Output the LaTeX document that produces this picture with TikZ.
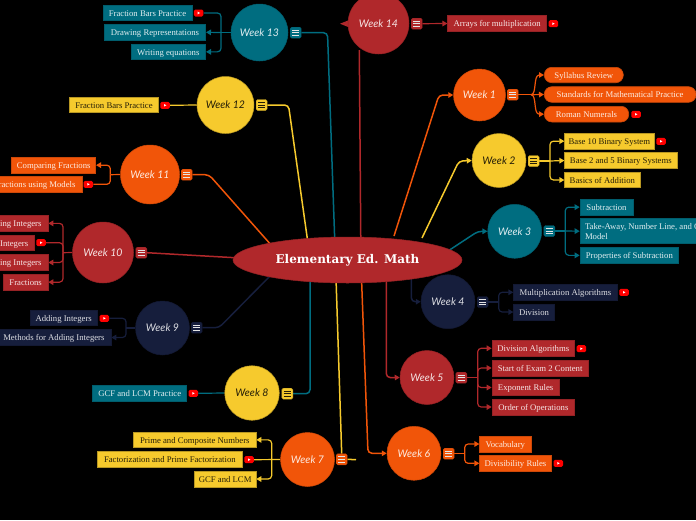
\documentclass[tikz,border=0pt]{standalone}
\usepackage{fontspec}
\usetikzlibrary{shapes.geometric,arrows.meta,calc}
\setmainfont{Liberation Serif}
\newfontfamily\wkfont{Lato}
\newfontfamily\ttlfont{DejaVu Serif}
\definecolor{cR}{HTML}{B0282B}
\definecolor{cO}{HTML}{F15509}
\definecolor{cY}{HTML}{F6CA2D}
\definecolor{cT}{HTML}{006D80}
\definecolor{cN}{HTML}{161E3C}
\pgfdeclarelayer{background}
\pgfdeclarelayer{conn}
\pgfsetlayers{background,conn,main}
\tikzset{
  sR/.style={fill=cR,draw=cR!85!black,text=white!88!cR},
  sO/.style={fill=cO,draw=cO!85!black,text=white!88!cO},
  sY/.style={fill=cY,draw=cY!75!black,text=black!85!cY},
  sT/.style={fill=cT,draw=cT!85!black,text=white!88!cT},
  sN/.style={fill=cN,draw=cN!85!black,text=white!85!cN},
  boxst/.style={rectangle,line width=.6pt,inner xsep=2pt,inner ysep=0pt,align=flush left,text height=7.5pt,text depth=.7pt,font=\fontsize{8.7}{10}\selectfont},
  twolinest/.style={text height=7.5pt,text depth=11pt},
  pillst/.style={rounded corners=7.5pt},
  rightst/.style={align=flush right},
  circst/.style={circle,inner sep=0pt,line width=.5pt,font=\wkfont\itshape\fontsize{10.5}{12}\selectfont},
  menust/.style={rectangle,rounded corners=1.5pt,minimum width=11pt,minimum height=11pt,inner sep=0pt,line width=.4pt},
  ytst/.style={rectangle,rounded corners=1.5pt,fill=red,draw=none,minimum width=9.5pt,minimum height=7pt,inner sep=0pt},
  mainc/.style={draw=#1,line width=1.5pt,rounded corners=4pt},
  subc/.style={draw=#1,line width=1.2pt,rounded corners=3.5pt},
  tip/.style={-{Triangle[length=5pt,width=5.5pt,fill=#1]}},
}
\newcommand\bx[7]{%
  \pgfmathsetmacro\bxw{#4-(#2)}\pgfmathsetmacro\bxh{#5-(#3)}%
  \pgfmathsetmacro\bxx{(#2+#4)/2}\pgfmathsetmacro\bxy{(#3+#5)/2}%
  \node[boxst,#6,minimum width=\bxw pt,minimum height=\bxh pt] (#1) at (\bxx,\bxy) {#7};}
\newcommand\bxc[7]{%
  \pgfmathsetmacro\bxw{#4-(#2)}\pgfmathsetmacro\bxh{#5-(#3)}%
  \pgfmathsetmacro\bxx{(#2+#4)/2}\pgfmathsetmacro\bxy{(#3+#5)/2}%
  \pgfmathsetmacro\bxt{\bxw-10}%
  \node[boxst,inner xsep=5pt,#6,minimum width=\bxw pt,minimum height=\bxh pt,text width=\bxt pt] (#1) at (\bxx,\bxy) {#7};}
\newcommand\wk[6]{\node[circst,#5,minimum size=#4*2pt] (#1) at (#2,#3) {#6};}
\newcommand\mn[4]{%
  \node[menust,#4] (#1) at (#2,#3) {};
  \draw[white!90!black,line width=.7pt] (#2-3.7,#3-2.6) -- (#2+3.7,#3-2.6) (#2-3.7,#3) -- (#2+3.7,#3) (#2-3.7,#3+2.6) -- (#2+3.7,#3+2.6);}
\newcommand\mnd[4]{%
  \node[menust,#4] (#1) at (#2,#3) {};
  \draw[black!85!cY,line width=.7pt] (#2-3.7,#3-2.6) -- (#2+3.7,#3-2.6) (#2-3.7,#3) -- (#2+3.7,#3) (#2-3.7,#3+2.6) -- (#2+3.7,#3+2.6);}
\newcommand\yt[3]{%
  \node[ytst] (#1) at (#2,#3) {};
  \fill[white] (#2-1,#3-1.3) -- (#2+1.4,#3) -- (#2-1,#3+1.3) -- cycle;}
\newcommand\rp{\hspace*{1.5pt}}
\begin{document}
\begin{tikzpicture}[x=1pt,y=-1pt]
\useasboundingbox (0,0) rectangle (696,520);
\begin{pgfonlayer}{background}
\fill[black] (0,0) rectangle (696,520);
\end{pgfonlayer}
\clip (0,0) rectangle (696,520);

\node[ellipse,fill=cR,draw=cR!85!black,line width=.5pt,inner sep=0pt,minimum width=229pt,minimum height=46pt,text=white,font=\ttlfont\bfseries\fontsize{12}{14}\selectfont] (main) at (347.5,260) {Elementary Ed. Math};

% circles
\wk{w13}{259.5}{32.5}{28.5}{sT}{Week 13}
\wk{w12}{225.5}{105}{28.5}{sY}{Week 12}
\wk{w11}{150}{174.5}{29.5}{sO}{Week 11}
\wk{w10}{103}{252.5}{30.5}{sR}{Week 10}
\wk{w9}{162.5}{328}{27}{sN}{Week 9}
\wk{w8}{252}{393}{27.3}{sY}{Week 8}
\wk{w7}{307.5}{459.5}{27}{sO}{Week 7}
\wk{w14}{378.5}{23.5}{30.5}{sR}{Week 14}
\wk{w1}{479.5}{95}{26}{sO}{Week 1}
\wk{w2}{499}{160.5}{27}{sY}{Week 2}
\wk{w3}{514.7}{231.3}{27}{sT}{Week 3}
\wk{w4}{448}{301.7}{27}{sN}{Week 4}
\wk{w5}{427}{377.5}{27}{sR}{Week 5}
\wk{w6}{414}{453.3}{27}{sO}{Week 6}

% menu icons
\mn{m13}{295.7}{32.7}{sT}
\mnd{m12}{261.7}{105}{sY}
\mn{m11}{186.7}{174.7}{sO}
\mn{m10}{141.3}{252.7}{sR}
\mn{m9}{196.7}{327.7}{sN}
\mnd{m8}{287.3}{393.7}{sY}
\mn{m7}{341.7}{459.3}{sO}
\mn{m14}{416.7}{23.7}{sR}
\mn{m1}{512.7}{94.7}{sO}
\mnd{m2}{533.7}{161}{sY}
\mn{m3}{549.3}{231}{sT}
\mn{m4}{482.7}{302}{sN}
\mn{m5}{461.3}{377.7}{sR}
\mn{m6}{448.7}{453.7}{sO}

% boxes
\bx{b13a}{103}{5}{192}{20.7}{sT}{Fraction Bars Practice}
\bx{b13b}{104.3}{24.3}{205.7}{40.3}{sT}{Drawing Representations}
\bx{b13c}{131}{44}{205.7}{59.7}{sT}{Writing equations}
\bx{b12a}{69.3}{97}{158.7}{112.7}{sY}{Fraction Bars Practice}
\bx{b11a}{11.7}{157.3}{95.7}{173}{sO}{Comparing Fractions}
\bxc{b11b}{-20}{176.3}{82}{192}{sO,rightst}{ractions using Models\rp}
\bxc{b10a}{-20}{215.7}{48}{231}{sR,rightst}{ing Integers\rp}
\bxc{b10b}{-20}{235.3}{34.7}{250.7}{sR,rightst}{Integers\rp}
\bxc{b10c}{-20}{254.7}{48}{270.3}{sR,rightst}{ing Integers\rp}
\bx{b10d}{3.3}{274.3}{48}{290}{sR}{Fractions}
\bx{b9a}{30}{310}{97.3}{325.7}{sN}{Adding Integers}
\bxc{b9b}{-10}{329.7}{111}{345.3}{sN,rightst}{Methods for Adding Integers\rp}
\bx{b8a}{92.7}{385.3}{186.7}{401.3}{sT}{GCF and LCM Practice}
\bx{b7a}{133.7}{432}{256}{447.7}{sY}{Prime and Composite Numbers}
\bx{b7b}{97}{451.3}{242.7}{467.3}{sY}{Factorization and Prime Factorization}
\bx{b7c}{194.3}{471}{256}{487}{sY}{GCF and LCM}
\bx{b14a}{447.7}{15.7}{546.7}{31.3}{sR}{Arrays for multiplication}
\bx{b1a}{544.3}{67.3}{623.3}{82.7}{sO,pillst}{Syllabus Review}
\bx{b1b}{544.3}{86.7}{696}{102.3}{sO,pillst}{Standards for Mathematical Practice}
\bx{b1c}{544.3}{106.3}{628.7}{122}{sO,pillst}{Roman Numerals}
\bx{b2a}{564.7}{133.3}{654}{149}{sY}{Base 10 Binary System}
\bx{b2b}{564.7}{152.7}{677}{168.3}{sY}{Base 2 and 5 Binary Systems}
\bx{b2c}{564.7}{172.3}{640}{187.7}{sY}{Basics of Addition}
\bx{b3a}{580}{199.3}{633}{215}{sT}{Subtraction}
\bxc{b3b}{580}{218.7}{720}{243.7}{sT,twolinest}{Take-Away, Number Line, and C\\Model}
\bx{b3c}{580}{247.7}{678.7}{263}{sT}{Properties of Subtraction}
\bx{b4a}{513.7}{284.3}{617}{300.3}{sN}{Multiplication Algorithms}
\bx{b4b}{513.7}{304}{554.3}{320}{sN}{Division}
\bx{b5a}{492}{340.3}{574.7}{356.3}{sR}{Division Algorithms}
\bx{b5b}{492}{360}{588.3}{376}{sR}{Start of Exam 2 Content}
\bx{b5c}{492}{379.7}{559.3}{395.3}{sR}{Exponent Rules}
\bx{b5d}{492}{399}{574.7}{415}{sR}{Order of Operations}
\bx{b6a}{479.7}{436}{531}{452}{sO}{Vocabulary}
\bx{b6b}{479.7}{455.3}{551.3}{471.3}{sO}{Divisibility Rules}

% video icons
\yt{y13}{198.7}{13}
\yt{y12}{165}{105.3}
\yt{y11}{88.3}{184.3}
\yt{y10}{41}{242.7}
\yt{y9}{104.3}{318.3}
\yt{y8}{193.3}{393.3}
\yt{y7}{249}{459.7}
\yt{y14}{553.3}{23.7}
\yt{y1}{636}{114.3}
\yt{y2}{661}{141.3}
\yt{y4}{624}{292.3}
\yt{y5}{581.3}{348.7}
\yt{y6}{558.3}{463.3}

% free ends and junctions
\coordinate (e13) at (334.8,242);
\coordinate (e12) at (307.8,242);
\coordinate (e11) at (272,246);
\coordinate (e10) at (240,258);
\coordinate (e9) at (272,274);
\coordinate (e8) at (310,278);
\coordinate (e7) at (336,278);
\coordinate (s14) at (359.3,50);
\coordinate (e14) at (360.8,242);
\coordinate (e1) at (394,236);
\coordinate (e2) at (422,238);
\coordinate (e3) at (445,253);
\coordinate (e4) at (411.3,276);
\coordinate (e5) at (386.3,278);
\coordinate (e6) at (361.5,278);
\coordinate (s7) at (356,459.7);
\coordinate (t14a) at (340,23.7);
\coordinate (t14b) at (348,20.5);
\coordinate (t14c) at (348,26.9);
\coordinate (c13) at (221,32.5);
\coordinate (c11) at (110.3,174.7);
\coordinate (c10) at (63,252.7);
\coordinate (c9) at (126,328);
\coordinate (c7) at (271.7,459.7);
\coordinate (c1) at (531,94.7);
\coordinate (c2) at (550,161);
\coordinate (c3) at (565.3,231);
\coordinate (c4) at (498.7,302);
\coordinate (c5) at (477.7,377.7);
\coordinate (c6) at (464.7,453.7);

\begin{pgfonlayer}{conn}
% main connectors
\draw[mainc=cT] (m13.east) -- (327.5,32.7) -- (e13);
\draw[mainc=cY] (m12.east) -- (288.5,105) -- (e12);
\draw[mainc=cO] (m11.east) -- (209,174.7) -- (e11);
\draw[mainc=cR] (m10.east) -- (e10);
\draw[mainc=cN] (m9.east) -- (219,327.7) -- (e9);
\draw[mainc=cT] (m8.east) -- (310,393.7) -- (e8);
\draw[mainc=cY] (m7.north) -- (e7);
\draw[cY,line width=1.5pt] (m7.east) -- (s7);
\draw[mainc=cR] (s14) -- (e14);
\fill[cR] (t14a) -- (t14b) -- (t14c) -- cycle;
\draw[mainc=cO,tip=cO] (e1) -- (439,95) -- (w1.west);
\draw[mainc=cY,tip=cY] (e2) -- (459,161) -- (w2.west);
\draw[mainc=cT,tip=cT] (e3) -- (478,231.3) -- (w3.west);
\draw[mainc=cN,tip=cN] (e4) -- (411.3,301.7) -- (w4.west);
\draw[mainc=cR,tip=cR] (e5) -- (386.3,377.6) -- (w5.west);
\draw[mainc=cO,tip=cO] (e6) -- (368,453.3) -- (w6.west);
% week 13
\draw[subc=cT] (w13.west) -- (c13);
\draw[subc=cT] (c13) |- (y13.east);
\draw[subc=cT,tip=cT] (c13) -- (b13b.east);
\draw[subc=cT,tip=cT] (c13) |- (b13c.east);
% week 12, 8, 14
\draw[subc=cY] (w12.west) -- (y12.east);
\draw[subc=cT] (w8.west) -- (y8.east);
\draw[subc=cR,tip=cR] (m14.east) -- (b14a.west);
% week 11
\draw[subc=cO] (w11.west) -- (c11);
\draw[subc=cO,tip=cO] (c11) |- (b11a.east);
\draw[subc=cO] (c11) |- (y11.east);
% week 10
\draw[subc=cR] (w10.west) -- (c10);
\draw[subc=cR,tip=cR] (c10) |- (b10a.east);
\draw[subc=cR] (c10) |- (y10.east);
\draw[subc=cR,tip=cR] (c10) |- (b10c.east);
\draw[subc=cR,tip=cR] (c10) |- (b10d.east);
% week 9
\draw[subc=cN] (w9.west) -- (c9);
\draw[subc=cN] (c9) |- (y9.east);
\draw[subc=cN,tip=cN] (c9) |- (b9b.east);
% week 7
\draw[subc=cY] (w7.west) -- (y7.east);
\draw[subc=cY,tip=cY] (c7) |- (b7a.east);
\draw[subc=cY,tip=cY] (c7) |- (b7c.east);
% week 1
\draw[subc=cO] (m1.east) -- (c1);
\draw[subc=cO,tip=cO] (c1) .. controls (537,94.7) and (533,75) .. (b1a.west);
\draw[subc=cO,tip=cO] (c1) -- (b1b.west);
\draw[subc=cO,tip=cO] (c1) .. controls (537,94.7) and (533,114.2) .. (b1c.west);
% week 2
\draw[subc=cY] (m2.east) -- (c2);
\draw[subc=cY,tip=cY] (c2) |- (b2a.west);
\draw[subc=cY,tip=cY] (c2) -- (b2b.west);
\draw[subc=cY,tip=cY] (c2) |- (b2c.west);
% week 3
\draw[subc=cT] (m3.east) -- (c3);
\draw[subc=cT,tip=cT] (c3) |- (b3a.west);
\draw[subc=cT,tip=cT] (c3) -- (b3b.west);
\draw[subc=cT,tip=cT] (c3) |- (b3c.west);
% week 4
\draw[subc=cN] (m4.east) -- (c4);
\draw[subc=cN,tip=cN] (c4) |- (b4a.west);
\draw[subc=cN,tip=cN] (c4) |- (b4b.west);
% week 5
\draw[subc=cR] (m5.east) -- (c5);
\draw[subc=cR,tip=cR] (c5) |- (b5a.west);
\draw[subc=cR,tip=cR] (c5) |- (b5b.west);
\draw[subc=cR,tip=cR] (c5) |- (b5c.west);
\draw[subc=cR,tip=cR] (c5) |- (b5d.west);
% week 6
\draw[subc=cO] (m6.east) -- (c6);
\draw[subc=cO,tip=cO] (c6) |- (b6a.west);
\draw[subc=cO,tip=cO] (c6) |- (b6b.west);
\end{pgfonlayer}
\end{tikzpicture}
\end{document}
